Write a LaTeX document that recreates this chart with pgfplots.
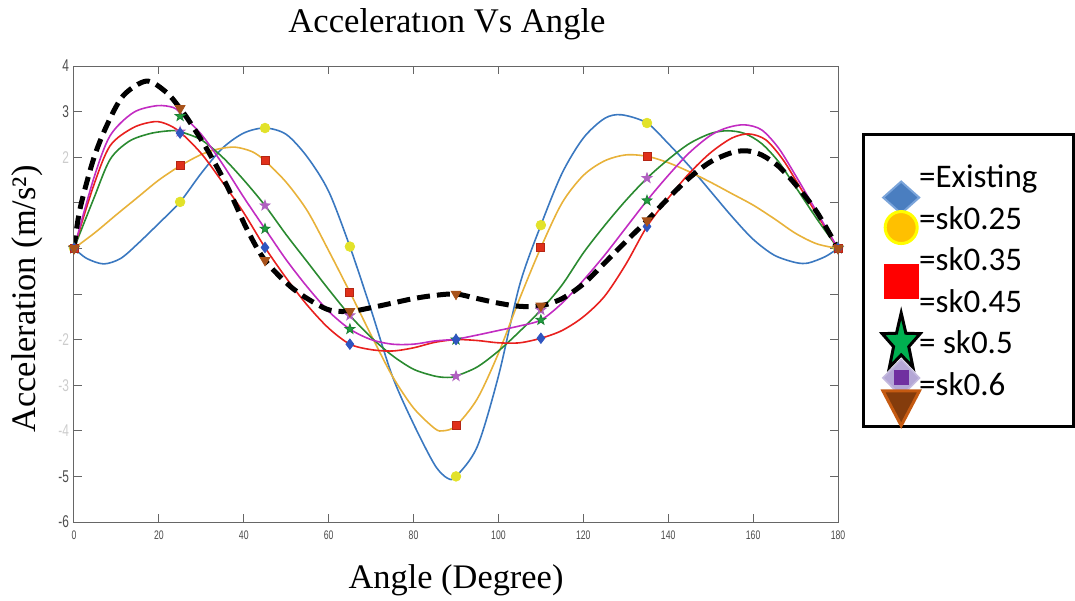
\documentclass[border=0pt]{standalone}
\usepackage{pgfplots}
\pgfplotsset{compat=1.18}
\usepackage{fontspec}
\setmainfont{Liberation Serif}
\newfontfamily\legfont{Carlito}
\newfontfamily\tickfont[FakeStretch=0.7]{Liberation Sans}

\definecolor{cblue}{HTML}{3A78C0}
\definecolor{cyellow}{HTML}{E8B23A}
\definecolor{cgreen}{HTML}{2A8A30}
\definecolor{cred}{HTML}{E8201E}
\definecolor{cmag}{HTML}{C22CC2}
\definecolor{mkyel}{HTML}{E2E22A}
\definecolor{mkred}{HTML}{E0301A}
\definecolor{mkpur}{HTML}{B060C0}
\definecolor{mkgrn}{HTML}{20A040}
\definecolor{mkblu}{HTML}{2F55C0}
\definecolor{mkbrn}{HTML}{A8521A}
\definecolor{lgblue}{HTML}{4A7EC0}
\definecolor{lgblueE}{HTML}{7AA4DA}
\definecolor{lgyel}{HTML}{FFC000}
\definecolor{lgyelE}{HTML}{FFFF00}
\definecolor{lggrn}{HTML}{00B050}
\definecolor{lglav}{HTML}{B4A7D6}
\definecolor{lgpur}{HTML}{7030A0}
\definecolor{lgbrn}{HTML}{843C0C}
\definecolor{lgbrnE}{HTML}{C55A11}

\pgfdeclareplotmark{fstar}{%
  \pgfpathmoveto{\pgfqpointpolar{90}{\pgfplotmarksize}}%
  \pgfpathlineto{\pgfqpointpolar{126}{0.4\pgfplotmarksize}}%
  \pgfpathlineto{\pgfqpointpolar{162}{\pgfplotmarksize}}%
  \pgfpathlineto{\pgfqpointpolar{198}{0.4\pgfplotmarksize}}%
  \pgfpathlineto{\pgfqpointpolar{234}{\pgfplotmarksize}}%
  \pgfpathlineto{\pgfqpointpolar{270}{0.4\pgfplotmarksize}}%
  \pgfpathlineto{\pgfqpointpolar{306}{\pgfplotmarksize}}%
  \pgfpathlineto{\pgfqpointpolar{342}{0.4\pgfplotmarksize}}%
  \pgfpathlineto{\pgfqpointpolar{18}{\pgfplotmarksize}}%
  \pgfpathlineto{\pgfqpointpolar{54}{0.4\pgfplotmarksize}}%
  \pgfpathclose
  \pgfusepathqfillstroke}

\begin{document}
\begin{tikzpicture}
\begin{axis}[
  scale only axis, width=382pt, height=228pt,
  xmin=0, xmax=180, ymin=-6, ymax=4,
  xtick={0,20,...,180}, ytick={-6,-5,...,4},
  yticklabels={-6,-5,{\textcolor{black!20}{-4}},{\textcolor{black!20}{-3}},{\textcolor{black!20}{-2}},{},{},{},{\textcolor{black!20}{2}},3,4},
  tick pos=both, tick align=inside, major tick length=4pt,
  axis line style={black!60, line width=0.5pt},
  every tick/.style={black!60, line width=0.5pt},
  /pgf/number format/assume math mode=true,
  xticklabel style={font=\tickfont\fontsize{6.2}{7}\selectfont, text=black!70, yshift=-1pt},
  yticklabel style={font=\tickfont\fontsize{8.5}{9}\selectfont, text=black!70, xshift=1pt},
  every axis title shift=0pt,
  title={Acceleratıon Vs Angle},
  title style={font=\fontsize{17.3}{20}\selectfont, anchor=base, at={(axis description cs:0.5,1)}, yshift=17pt, xshift=-4.5pt},
  xlabel={Angle (Degree)},
  xlabel style={font=\fontsize{17.2}{20}\selectfont, anchor=base, at={(axis description cs:0.5,0)}, yshift=-33pt},
  ylabel={Acceleration (m/s²)},
  ylabel style={font=\fontsize{17.2}{20}\selectfont, anchor=base, rotate=0, at={(axis description cs:-0.051,0.489)}},
  legend style={at={(axis description cs:1.031,0.853)}, anchor=north west, draw=black, line width=1.5pt,
    font=\legfont\fontsize{16.5}{19.8}\selectfont, inner xsep=10pt, inner ysep=12pt, row sep=2.8pt,
    nodes={inner xsep=0pt, inner ysep=0pt, text height=14.5pt, text depth=3.5pt}},
  legend cell align=left,
]
\coordinate (bl) at (rel axis cs:0,0);
\coordinate (tr) at (rel axis cs:1,1);

% Existing (blue)
\addplot[cblue, line width=0.8pt, mark=none, smooth, forget plot] coordinates {
(0,0) (3,-0.22) (7,-0.34) (11,-0.22) (15,0.1) (20,0.55) (25,1.02) (30,1.65) (35,2.2) (40,2.53) (45,2.64)
(50,2.5) (55,2.0) (60,1.25) (65,0.04) (70,-1.35) (75,-2.8) (80,-3.85) (85,-4.75) (88,-5.04) (90,-5.0)
(95,-4.35) (100,-2.8) (105,-0.8) (110,0.51) (115,1.65) (120,2.42) (125,2.85) (129,2.93) (135,2.75)
(140,2.3) (145,1.8) (150,1.25) (155,0.7) (160,0.2) (165,-0.15) (170,-0.31) (173,-0.32) (177,-0.18) (180,0)};
% sk0.25 (yellow)
\addplot[cyellow, line width=0.8pt, mark=none, smooth, forget plot] coordinates {
(0,0) (5,0.35) (10,0.74) (15,1.12) (20,1.5) (25,1.81) (30,2.06) (34,2.18) (38,2.22) (42,2.12) (45,1.92)
(50,1.45) (55,0.82) (60,-0.05) (65,-0.96) (70,-1.9) (75,-2.8) (80,-3.5) (85,-3.95) (87,-4.0) (90,-3.89)
(95,-3.3) (100,-2.3) (105,-1.1) (110,0.02) (115,1.0) (120,1.6) (125,1.92) (130,2.05) (135,2.02)
(140,1.88) (145,1.68) (150,1.45) (155,1.2) (160,0.95) (165,0.65) (170,0.33) (175,0.1) (180,0)};
% green
\addplot[cgreen, line width=0.8pt, mark=none, smooth, forget plot] coordinates {
(0,0) (4.6,1.08) (8.5,1.95) (13,2.35) (18,2.52) (22.6,2.58) (25,2.56) (30,2.38) (35,2.0) (40,1.5) (45,0.94)
(50,0.3) (55,-0.3) (60,-0.9) (65,-1.47) (70,-1.95) (75,-2.35) (80,-2.65) (85,-2.8) (88,-2.83) (90,-2.8)
(95,-2.6) (100,-2.25) (105,-1.82) (110,-1.35) (115,-0.8) (120,-0.1) (125,0.5) (130,1.05) (135,1.54)
(140,1.95) (145,2.3) (150,2.52) (154,2.58) (158,2.52) (162,2.3) (166,1.9) (170,1.35) (175,0.65) (180,0)};
% red
\addplot[cred, line width=0.8pt, mark=none, smooth, forget plot] coordinates {
(0,0) (4.6,1.37) (8.5,2.25) (14,2.65) (19,2.78) (22,2.72) (25,2.55) (30,2.08) (35,1.45) (40,0.78) (45,0.02)
(50,-0.65) (55,-1.25) (60,-1.75) (65,-2.1) (70,-2.22) (75,-2.25) (80,-2.18) (85,-2.06) (90,-2.0)
(95,-2.02) (100,-2.07) (105,-2.07) (110,-1.97) (115,-1.8) (120,-1.5) (125,-1.05) (130,-0.35) (135,0.48)
(140,1.1) (145,1.65) (150,2.1) (155,2.42) (159,2.51) (163,2.38) (167,1.95) (171,1.35) (175,0.75) (180,0)};
% magenta
\addplot[cmag, line width=0.8pt, mark=none, smooth, forget plot] coordinates {
(0,0) (4.6,1.52) (8.5,2.47) (14,2.98) (19.6,3.13) (23.4,3.09) (25,2.97) (30,2.5) (35,1.85) (40,1.12) (45,0.43)
(50,-0.25) (55,-0.85) (60,-1.38) (65,-1.77) (70,-2.0) (75,-2.1) (80,-2.1) (85,-2.03) (90,-1.99)
(95,-1.9) (100,-1.8) (105,-1.7) (110,-1.57) (115,-1.2) (120,-0.7) (125,-0.15) (130,0.45) (135,1.05)
(140,1.6) (145,2.1) (150,2.48) (154,2.65) (158,2.71) (162,2.6) (166,2.2) (170,1.6) (175,0.8) (180,0)};
% dashed black
\addplot[black, line width=2.5pt, dash pattern=on 6.5pt off 3.5pt, mark=none, smooth, forget plot] coordinates {
(0,0) (1.4,0.86) (4.6,1.96) (7.7,2.69) (11.6,3.35) (17.1,3.67) (21.8,3.42) (25,3.07) (27.3,2.77) (31.3,2.18)
(36,1.38) (40.7,0.43) (45,-0.26) (51.7,-0.89) (59.5,-1.33) (65,-1.38) (70,-1.3) (75,-1.2) (80,-1.1)
(85,-1.03) (90,-1.0) (95,-1.1) (100,-1.2) (105,-1.27) (110,-1.26) (115,-1.1) (120,-0.78) (125,-0.32)
(130,0.15) (135,0.61) (140,1.1) (145,1.55) (150,1.9) (155,2.1) (158.5,2.14) (162,2.05) (166,1.8)
(170,1.4) (175,0.8) (180,0)};

% markers
\addplot[only marks, mark=fstar, mark size=2.6pt, draw=mkpur, fill=mkpur, forget plot] coordinates {
(0,0) (25,2.56) (45,0.94) (65,-1.47) (90,-2.8) (110,-1.35) (135,1.54) (180,0)};
\addplot[only marks, mark=fstar, mark size=2.6pt, draw=mkgrn!80!black, fill=mkgrn, forget plot] coordinates {
(0,0) (25,2.9) (45,0.43) (65,-1.77) (90,-2.0) (110,-1.57) (135,1.05) (180,0)};
\addplot[only marks, mark=*, mark size=2.4pt, draw=mkyel, fill=mkyel, forget plot] coordinates {
(0,0) (25,1.02) (45,2.64) (65,0.04) (90,-5.0) (110,0.51) (135,2.75) (180,0)};
\addplot[only marks, mark=square*, mark size=2pt, draw=mkred!80!black, fill=mkred, forget plot] coordinates {
(0,0) (25,1.81) (45,1.92) (65,-0.96) (90,-3.89) (110,0.02) (135,2.02) (180,0)};
\addplot[only marks, mark=diamond*, mark size=2.6pt, draw=mkblu, fill=mkblu, forget plot] coordinates {
(0,0) (25,2.53) (45,0.02) (65,-2.1) (90,-2.0) (110,-1.97) (135,0.48) (180,0)};
\addplot[only marks, mark=triangle*, mark size=2.8pt, mark options={rotate=180}, draw=mkbrn, fill=mkbrn, forget plot] coordinates {
(0,0) (25,3.07) (45,-0.26) (65,-1.38) (90,-1.0) (110,-1.26) (135,0.61) (180,0)};

\node[anchor=south west, font=\tickfont\fontsize{6}{7}\selectfont, text=black!65, inner sep=0pt] at (rel axis cs:0.005,1.006) {×10\textsuperscript{4}};

% legend
\addlegendimage{legend image code/.code={\begin{pgfinterruptboundingbox}\draw[mark=diamond*, mark size=8pt, mark options={xscale=1.5, fill=lgblue, draw=lgblueE, line width=1pt}] plot coordinates {(9pt,-10.5pt)};\end{pgfinterruptboundingbox}\path[draw=none,fill=none] (0pt,-2pt) rectangle (18pt,2pt);}}
\addlegendentry{=Existing\hspace*{8pt}\mbox{}}
\addlegendimage{legend image code/.code={\begin{pgfinterruptboundingbox}\draw[mark=*, mark size=8pt, mark options={fill=lgyel, draw=lgyelE, line width=1.5pt}] plot coordinates {(9pt,-4.7pt)};\end{pgfinterruptboundingbox}\path[draw=none,fill=none] (0pt,-2pt) rectangle (18pt,2pt);}}
\addlegendentry{=sk0.25}
\addlegendimage{legend image code/.code={\begin{pgfinterruptboundingbox}\draw[mark=square*, mark size=8.5pt, mark options={fill=red, draw=red, line width=0pt}] plot coordinates {(9pt,-10.8pt)};\end{pgfinterruptboundingbox}\path[draw=none,fill=none] (0pt,-2pt) rectangle (18pt,2pt);}}
\addlegendentry{=sk0.35}
\addlegendimage{legend image code/.code={\path[draw=none,fill=none] (0pt,-2pt) rectangle (18pt,2pt);}}
\addlegendentry{=sk0.45}
\addlegendimage{legend image code/.code={\begin{pgfinterruptboundingbox}\draw[mark=fstar, mark size=10pt, mark options={yscale=1.5, fill=lggrn, draw=black, line width=1.5pt}] plot coordinates {(9pt,0pt)};\end{pgfinterruptboundingbox}\path[draw=none,fill=none] (0pt,-2pt) rectangle (18pt,2pt);}}
\addlegendentry{= sk0.5}
\addlegendimage{legend image code/.code={\begin{pgfinterruptboundingbox}\draw[mark=diamond*, mark size=9.2pt, mark options={xscale=1.33, fill=lglav, draw=lglav!80!white, line width=0.8pt}] plot coordinates {(9pt,3.3pt)};\draw[mark=square*, mark size=3pt, mark options={fill=lgpur, draw=lgpur}] plot coordinates {(9pt,3.3pt)};\draw[mark=triangle*, mark size=10.5pt, mark options={rotate=180, yscale=1.1, fill=lgbrn, draw=lgbrnE, line width=1.5pt}] plot coordinates {(9pt,-9pt)};\end{pgfinterruptboundingbox}\path[draw=none,fill=none] (0pt,-2pt) rectangle (18pt,2pt);}}
\addlegendentry{=sk0.6}
\end{axis}
\pgfresetboundingbox
\path ([shift={(-37pt,-39pt)}]bl) rectangle ([shift={(118.5pt,33pt)}]tr);
\end{tikzpicture}
\end{document}
